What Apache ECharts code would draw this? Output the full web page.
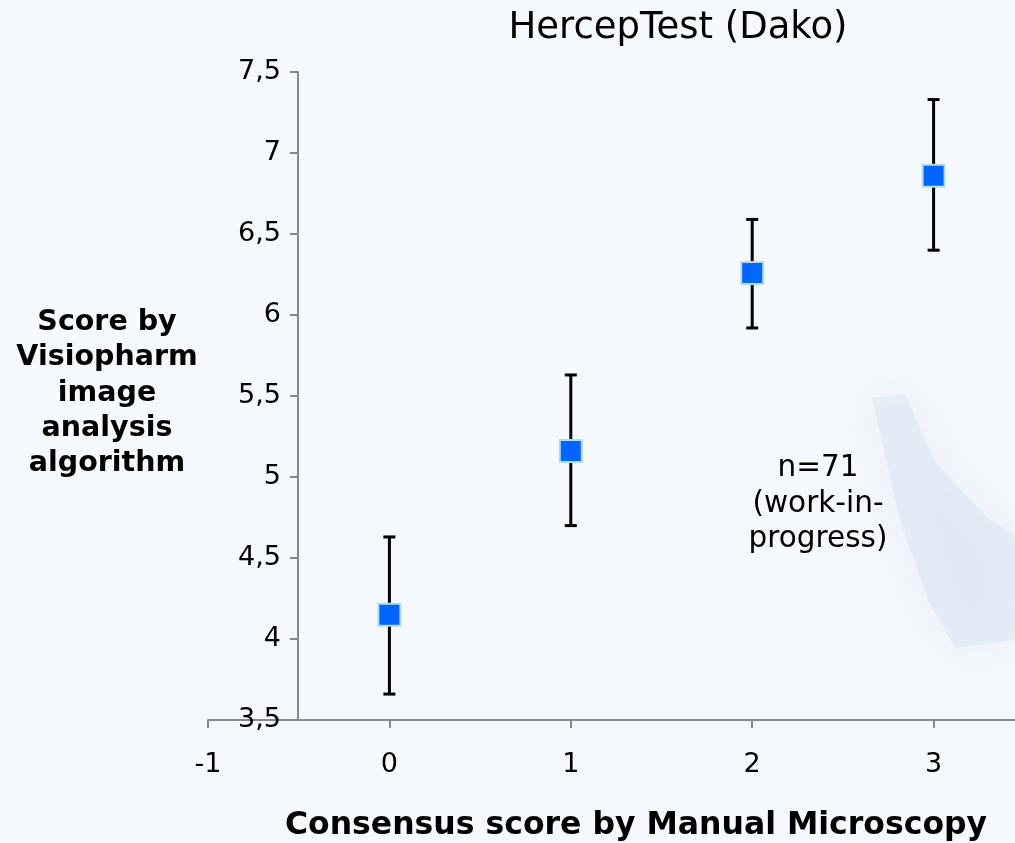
<!doctype html>
<html>
    <head>
        <meta charset="utf-8">
        <title>HercepTest (Dako)</title>
        <style>
            html, body { margin: 0; padding: 0; overflow: hidden; }
            /* wider than the window: the x axis runs on past the right edge */
            #main { width: 1115px; height: 843px; }
        </style>
    </head>
    <body>
        <div id="main"></div>
        <script src="https://cdn.jsdelivr.net/npm/echarts@6/dist/echarts.min.js"></script>
        <script>
            var chart = echarts.init(document.getElementById('main'));

            // consensus scores and image analysis means with error ranges
            var scores = [0, 1, 2, 3];
            var means = [4.15, 5.16, 6.26, 6.86];
            var lows = [3.66, 4.70, 5.92, 6.40];
            var highs = [4.63, 5.63, 6.59, 7.33];

            var font = 'Verdana, "DejaVu Sans", sans-serif';

            var points = scores.map(function (s, i) { return [s, means[i]]; });
            var bars = scores.map(function (s, i) { return [s, lows[i], highs[i]]; });

            // faint blue smudge from the slide background
            var smudge = [[872, 398], [905, 394], [935, 462], [990, 520], [1015, 535], [1015, 640], [955, 648], [928, 600], [900, 520]];

            chart.setOption({
                backgroundColor: '#f5f8fc',
                graphic: [{
                    type: 'polygon',
                    z: 0,
                    silent: true,
                    shape: { points: smudge },
                    style: { fill: 'rgba(205,222,238,0.35)', shadowBlur: 40, shadowColor: 'rgba(205,222,238,0.9)' }
                }],
                title: [{
                    text: 'HercepTest (Dako)',
                    left: 673, top: 5, textAlign: 'center',
                    textStyle: { fontFamily: font, fontSize: 37, fontWeight: 'normal', color: '#000' }
                }, {
                    text: 'Score by\nVisiopharm\nimage\nanalysis\nalgorithm',
                    left: 102, top: 300, textAlign: 'center',
                    textStyle: { fontFamily: font, fontSize: 28.5, fontWeight: 'bold', color: '#000', lineHeight: 35.3 }
                }, {
                    text: 'Consensus score by Manual Microscopy',
                    left: 631, top: 805, textAlign: 'center',
                    textStyle: { fontFamily: font, fontSize: 31.5, fontWeight: 'bold', color: '#000' }
                }, {
                    text: 'n=71\n(work-in-\nprogress)',
                    left: 813, top: 446, textAlign: 'center',
                    textStyle: { fontFamily: font, fontSize: 29.5, fontWeight: 'normal', color: '#000', lineHeight: 35.5 }
                }],
                grid: { left: 208, right: 0, top: 72, bottom: 123, outerBoundsMode: 'none' },
                xAxis: {
                    type: 'value', min: -1, max: 4, interval: 1,
                    axisLine: { lineStyle: { color: '#888', width: 2 } },
                    axisTick: { show: true, length: 8, lineStyle: { color: '#888', width: 2 } },
                    axisLabel: { fontFamily: font, fontSize: 27, color: '#000', margin: 31 },
                    splitLine: { show: false }
                },
                yAxis: {
                    type: 'value', min: 3.5, max: 7.5, interval: 0.5,
                    offset: -90,
                    axisLine: { show: true, onZero: false, lineStyle: { color: '#888', width: 2 } },
                    axisTick: { show: true, length: 8, lineStyle: { color: '#888', width: 2 } },
                    axisLabel: {
                        fontFamily: font, fontSize: 27, color: '#000', margin: 17,
                        formatter: function (v) { return String(v).replace('.', ','); }
                    },
                    splitLine: { show: false }
                },
                series: [{
                    type: 'custom',
                    data: bars,
                    z: 2,
                    renderItem: function (params, api) {
                        var x = api.value(0);
                        var lo = api.coord([x, api.value(1)]);
                        var hi = api.coord([x, api.value(2)]);
                        var cap = 6;
                        var style = { stroke: '#000', lineWidth: 3 };
                        return {
                            type: 'group',
                            children: [
                                { type: 'line', shape: { x1: lo[0], y1: lo[1], x2: hi[0], y2: hi[1] }, style: style },
                                { type: 'line', shape: { x1: lo[0] - cap, y1: lo[1], x2: lo[0] + cap, y2: lo[1] }, style: style },
                                { type: 'line', shape: { x1: hi[0] - cap, y1: hi[1], x2: hi[0] + cap, y2: hi[1] }, style: style }
                            ]
                        };
                    }
                }, {
                    type: 'scatter',
                    data: points,
                    z: 3,
                    symbol: 'rect',
                    symbolSize: 22,
                    itemStyle: { color: '#0066ff', borderColor: '#b0dde8', borderWidth: 2, opacity: 1 }
                }]
            });

            window.onresize = chart.resize;
        </script>
    </body>
</html>
